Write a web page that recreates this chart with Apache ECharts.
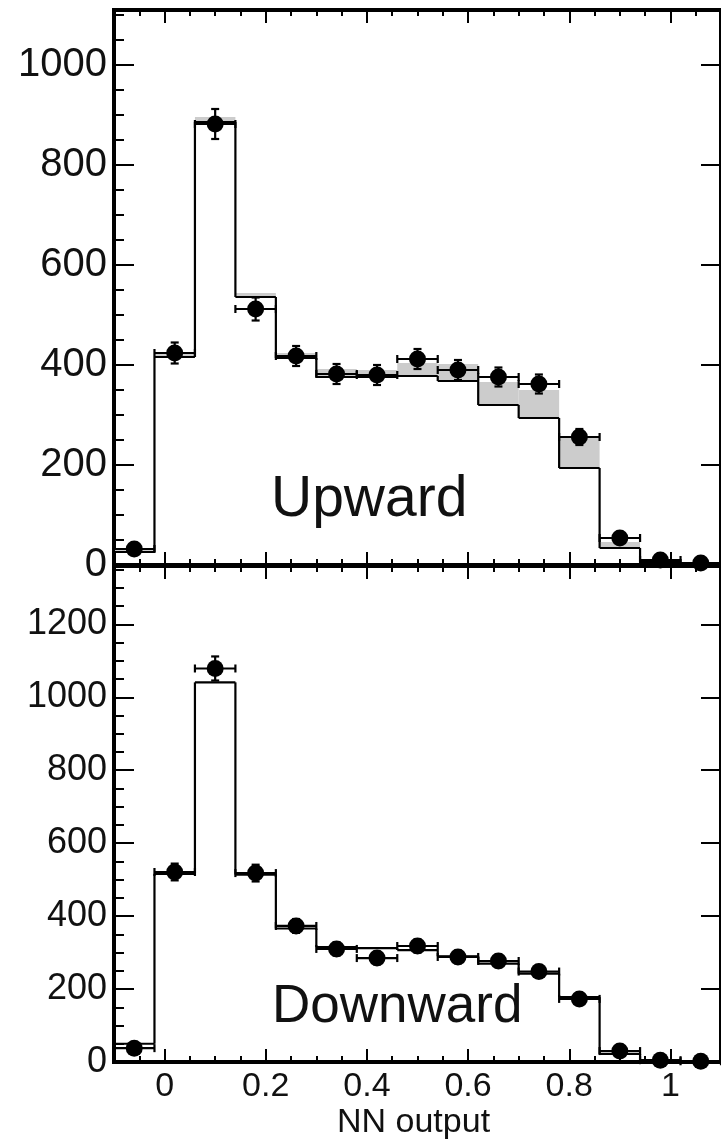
<!DOCTYPE html>
<html>
<head>
<meta charset="utf-8">
<script src="https://cdn.jsdelivr.net/npm/echarts@6/dist/echarts.min.js"></script>
<style>
html,body{margin:0;padding:0;background:#fff;}
#c{width:721px;height:1145px;}
</style>
</head>
<body>
<div id="c"></div>
<script>
// ---- data ----
const binEdges = [-0.1, -0.02, 0.06, 0.14, 0.22, 0.30, 0.38, 0.46, 0.54, 0.62, 0.70, 0.78, 0.86, 0.94, 1.02, 1.10];
const binCenters = [-0.06, 0.02, 0.10, 0.18, 0.26, 0.34, 0.42, 0.50, 0.58, 0.66, 0.74, 0.82, 0.90, 0.98, 1.06];
const binHalfWidth = 0.04;

const upData  = [32, 424, 882, 512, 418, 382, 380, 412, 390, 376, 362, 256, 54, 10, 4];
const upErr   = [6, 21, 30, 23, 20, 20, 20, 20, 20, 19, 19, 16, 7, 3, 2];
const upMC    = [26, 416, 886, 536, 414, 376, 376, 378, 368, 320, 294, 194, 34, 6, 3];
const upTotal = [30, 422, 896, 544, 424, 392, 390, 404, 402, 366, 350, 254, 46, 8, 4];

const downData = [38, 521, 1079, 518, 373, 310, 285, 318, 288, 277, 248, 173, 30, 5, 2];
const downErr  = [6, 23, 33, 23, 19, 18, 17, 18, 17, 17, 16, 13, 5, 2, 1];
const downMC   = [50, 516, 1041, 514, 366, 315, 312, 307, 290, 270, 242, 178, 22, 3, 2];

const xMajorTicks = [0, 0.2, 0.4, 0.6, 0.8, 1.0];
const upYMax = 1110;
const downYMax = 1360;
const upLabel = 'Upward';
const downLabel = 'Downward';
const xTitle = 'NN output';

// ---- chart ----
const FONT = 'Liberation Sans, Arial, sans-serif';
const chart = echarts.init(document.getElementById('c'), null, {renderer: 'canvas'});

const grids = [
  {left: 114, top: 10, width: 621, height: 555, show: true, borderColor: '#000', borderWidth: 4, backgroundColor: 'transparent'},
  {left: 114, top: 566, width: 621, height: 496, show: true, borderColor: '#000', borderWidth: 4, backgroundColor: 'transparent'}
];

const tickLine = {color: '#000', width: 2};

function xAxesFor(gi, withLabels) {
  const base = {type: 'value', gridIndex: gi, min: -0.1, max: 1.1, axisLine: {show: false, onZero: false}, splitLine: {show: false}};
  return [
    Object.assign({}, base, {position: 'bottom',
      axisTick: {show: true, inside: true, length: 13, lineStyle: tickLine, customValues: xMajorTicks},
      axisLabel: withLabels ? {show: true, customValues: xMajorTicks, margin: 8, color: '#111', fontFamily: FONT, fontSize: 34,
        formatter: v => String(Math.round(v * 10) / 10)} : {show: false}}),
    Object.assign({}, base, {position: 'bottom', interval: 0.05,
      axisTick: {show: true, inside: true, length: 6, lineStyle: tickLine}, axisLabel: {show: false}}),
    Object.assign({}, base, {position: 'top',
      axisTick: {show: true, inside: true, length: 13, lineStyle: tickLine, customValues: xMajorTicks},
      axisLabel: {show: false}}),
    Object.assign({}, base, {position: 'top', interval: 0.05,
      axisTick: {show: true, inside: true, length: 6, lineStyle: tickLine}, axisLabel: {show: false}})
  ];
}

function yAxesFor(gi, ymax, fs) {
  const base = {type: 'value', gridIndex: gi, min: 0, max: ymax, axisLine: {show: false, onZero: false}, splitLine: {show: false}};
  return [
    Object.assign({}, base, {position: 'left', interval: 200,
      axisTick: {show: true, inside: true, length: 20, lineStyle: tickLine},
      axisLabel: {show: true, margin: 7, color: '#111', fontFamily: FONT, fontSize: fs, showMaxLabel: false,
        formatter: v => String(v)}}),
    Object.assign({}, base, {position: 'left', interval: 50,
      axisTick: {show: true, inside: true, length: 10, lineStyle: tickLine}, axisLabel: {show: false}}),
    Object.assign({}, base, {position: 'right', interval: 200,
      axisTick: {show: true, inside: true, length: 20, lineStyle: tickLine}, axisLabel: {show: false}})
  ];
}

const xAxes = xAxesFor(0, false).concat(xAxesFor(1, true));
const yAxes = yAxesFor(0, upYMax, 40).concat(yAxesFor(1, downYMax, 36));

function bandSeries(xi, yi, lo, hi) {
  return {
    type: 'custom', xAxisIndex: xi, yAxisIndex: yi, z: 1, silent: true,
    data: lo.map((v, i) => [binEdges[i], binEdges[i + 1], v, hi[i]]),
    renderItem: function (params, api) {
      const p0 = api.coord([api.value(0), api.value(3)]);
      const p1 = api.coord([api.value(1), api.value(2)]);
      return {type: 'rect', shape: {x: p0[0], y: p0[1], width: p1[0] - p0[0], height: p1[1] - p0[1]},
        style: {fill: '#cccccc'}};
    }
  };
}

// histogram outline: horizontal segment per bin + vertical riser from previous bin
function histSeries(xi, yi, vals) {
  return {
    type: 'custom', xAxisIndex: xi, yAxisIndex: yi, z: 2, silent: true,
    data: vals.map((v, i) => [binEdges[i], binEdges[i + 1], v, i > 0 ? vals[i - 1] : v]),
    renderItem: function (params, api) {
      const a = api.coord([api.value(0), api.value(2)]);
      const b = api.coord([api.value(1), api.value(2)]);
      const p = api.coord([api.value(0), api.value(3)]);
      const st = {stroke: '#000', lineWidth: 2.2};
      return {type: 'group', children: [
        {type: 'line', shape: {x1: a[0], y1: a[1], x2: b[0], y2: b[1]}, style: st},
        {type: 'line', shape: {x1: a[0], y1: p[1], x2: a[0], y2: a[1]}, style: st}
      ]};
    }
  };
}

function errSeries(xi, yi, vals, errs) {
  return {
    type: 'custom', xAxisIndex: xi, yAxisIndex: yi, z: 3, silent: true,
    data: vals.map((v, i) => [binCenters[i], v, errs[i], binHalfWidth]),
    renderItem: function (params, api) {
      const x = api.value(0), y = api.value(1), e = api.value(2), hw = api.value(3);
      const c = api.coord([x, y]);
      const t = api.coord([x, y + e]);
      const b = api.coord([x, y - e]);
      const l = api.coord([x - hw, y]);
      const r = api.coord([x + hw, y]);
      const st = {stroke: '#000', lineWidth: 2.2};
      const cap = 4;
      return {type: 'group', children: [
        {type: 'line', shape: {x1: c[0], y1: t[1], x2: c[0], y2: b[1]}, style: st},
        {type: 'line', shape: {x1: c[0] - cap, y1: t[1], x2: c[0] + cap, y2: t[1]}, style: st},
        {type: 'line', shape: {x1: c[0] - cap, y1: b[1], x2: c[0] + cap, y2: b[1]}, style: st},
        {type: 'line', shape: {x1: l[0], y1: c[1], x2: r[0], y2: c[1]}, style: st},
        {type: 'line', shape: {x1: l[0], y1: c[1] - cap, x2: l[0], y2: c[1] + cap}, style: st},
        {type: 'line', shape: {x1: r[0], y1: c[1] - cap, x2: r[0], y2: c[1] + cap}, style: st}
      ]};
    }
  };
}

function pointSeries(xi, yi, vals) {
  return {type: 'scatter', xAxisIndex: xi, yAxisIndex: yi, z: 4, silent: true, symbol: 'circle', symbolSize: 17,
    itemStyle: {color: '#000', opacity: 1}, data: vals.map((v, i) => [binCenters[i], v])};
}

const option = {
  animation: false,
  backgroundColor: '#fff',
  grid: grids,
  xAxis: xAxes,
  yAxis: yAxes,
  series: [
    bandSeries(0, 0, upMC, upTotal),
    histSeries(0, 0, upMC),
    errSeries(0, 0, upData, upErr),
    pointSeries(0, 0, upData),
    histSeries(4, 3, downMC),
    errSeries(4, 3, downData, downErr),
    pointSeries(4, 3, downData)
  ],
  graphic: [
    {type: 'text', left: 271, top: 472, z: 10, style: {text: upLabel, fill: '#111', font: '57px ' + FONT}},
    {type: 'text', left: 272, top: 981, z: 10, style: {text: downLabel, fill: '#111', font: '53px ' + FONT}},
    {type: 'text', left: 337, top: 1106, z: 10, style: {text: xTitle, fill: '#111', font: '34px ' + FONT}}
  ]
};
chart.setOption(option);
</script>
</body>
</html>
